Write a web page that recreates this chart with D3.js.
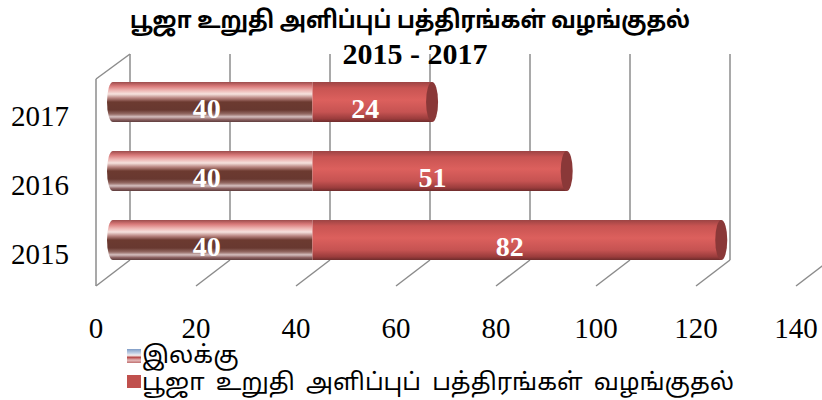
<!DOCTYPE html>
<html>
<head>
<meta charset="utf-8">
<script src="https://cdn.jsdelivr.net/npm/d3@7"></script>
<style>
  body { margin: 0; background: #fff; }
  svg { display: block; }
  .tamil { font-family: "Noto Sans Tamil", "Lohit Tamil", "Noto Sans", sans-serif; }
  .serif { font-family: "Liberation Serif", "Times New Roman", serif; }
</style>
</head>
<body>
<div id="chart"></div>
<script>
// DATA ------------------------------
const years = ["2017", "2016", "2015"];
const target = [40, 40, 40];
const issued = [24, 51, 82];
const xTicks = [0, 20, 40, 60, 80, 100, 120, 140];
const seriesNames = ["இலக்கு", "பூஜா உறுதி அளிப்புப் பத்திரங்கள் வழங்குதல்"];
const titleLine1 = "பூஜா உறுதி அளிப்புப் பத்திரங்கள் வழங்குதல்";
const titleLine2 = "2015 - 2017";

// CHART INIT ------------------------------
const width = 822, height = 400;
const svg = d3.select("#chart").append("svg")
  .attr("width", width)
  .attr("height", height);

const depth = {dx: -34, dy: 26};
const wallTop = 54, wallBottom = 260;

// back wall, bar (mid depth) and front plane scales
const xBack = d3.scaleLinear().domain([0, 140]).range([130, 830]);
const xBar = d3.scaleLinear().domain([0, 140]).range([113, 811]);
const xFront = d3.scaleLinear().domain([0, 140]).range([96, 796]);
const yPos = d3.scalePoint().domain(years).range([102, 240]);
const barH = 40, capRx = 6;

const defs = svg.append("defs");
const g1 = defs.append("linearGradient").attr("id", "gTarget")
  .attr("x1", 0).attr("y1", 0).attr("x2", 0).attr("y2", 1);
[[0, "#9c4c4c"], [0.1, "#d87878"], [0.2, "#ecb0ae"], [0.3, "#f6e2de"],
 [0.4, "#b88480"], [0.5, "#6c3a30"], [0.7, "#683830"], [0.8, "#946a64"],
 [0.87, "#d4bebe"], [0.94, "#8c6262"], [1, "#5e3c3c"]]
  .forEach(s => g1.append("stop").attr("offset", s[0]).attr("stop-color", s[1]));

const g2 = defs.append("linearGradient").attr("id", "gIssued")
  .attr("x1", 0).attr("y1", 0).attr("x2", 0).attr("y2", 1);
[[0, "#9c4444"], [0.15, "#c85452"], [0.45, "#dc605d"], [0.75, "#c65352"], [0.92, "#9a3c3c"], [1, "#6e2c2c"]]
  .forEach(s => g2.append("stop").attr("offset", s[0]).attr("stop-color", s[1]));

const gLeg = defs.append("linearGradient").attr("id", "gLegend")
  .attr("x1", 0).attr("y1", 0).attr("x2", 0).attr("y2", 1);
[[0, "#7f9cc6"], [0.3, "#c4d2e6"], [0.45, "#f4f0f0"], [0.6, "#b84c4c"], [0.8, "#e4b8b8"], [1, "#c07070"]]
  .forEach(s => gLeg.append("stop").attr("offset", s[0]).attr("stop-color", s[1]));

// GRID ------------------------------
const grid = svg.append("g").attr("stroke", "#8c8c8c").attr("stroke-width", 1.5).attr("fill", "none");
grid.selectAll(".vline").data(xTicks).enter().append("line")
  .attr("x1", d => xBack(d)).attr("x2", d => xBack(d))
  .attr("y1", wallTop).attr("y2", wallBottom);
grid.selectAll(".floor").data(xTicks).enter().append("line")
  .attr("x1", d => xBack(d)).attr("y1", wallBottom)
  .attr("x2", d => xBack(d) + depth.dx).attr("y2", wallBottom + depth.dy);
grid.append("line")
  .attr("x1", xBack(0)).attr("y1", wallTop)
  .attr("x2", xBack(0) + depth.dx).attr("y2", wallTop + depth.dy - 1);
grid.append("line")
  .attr("x1", xFront(0)).attr("y1", wallTop + depth.dy - 1)
  .attr("x2", xFront(0)).attr("y2", wallBottom + depth.dy);

// BARS ------------------------------
const rows = years.map((y, i) => ({year: y, target: target[i], issued: issued[i]}));

const bars = svg.append("g");
rows.forEach(r => {
  const cy = yPos(r.year);
  const top = cy - barH / 2;
  const x0 = xBar(0), x1 = xBar(r.target), x2 = xBar(r.target + r.issued);
  // left rounded end
  bars.append("path")
    .attr("d", `M${x0},${top} A${capRx},${barH / 2} 0 0 0 ${x0},${top + barH} Z`)
    .attr("fill", "url(#gTarget)");
  bars.append("rect")
    .attr("x", x0).attr("y", top).attr("width", x1 - x0).attr("height", barH)
    .attr("fill", "url(#gTarget)");
  bars.append("rect")
    .attr("x", x1).attr("y", top).attr("width", x2 - x1).attr("height", barH)
    .attr("fill", "url(#gIssued)");
  bars.append("ellipse")
    .attr("cx", x2).attr("cy", cy).attr("rx", capRx).attr("ry", barH / 2)
    .attr("fill", "#8a3838");

  bars.append("text").attr("class", "serif")
    .attr("x", (x0 + x1) / 2 - 6).attr("y", cy + 6)
    .attr("text-anchor", "middle").attr("dominant-baseline", "central")
    .attr("fill", "#fff").attr("font-weight", "bold").attr("font-size", 28)
    .text(r.target);
  bars.append("text").attr("class", "serif")
    .attr("x", (x1 + x2) / 2 - 7).attr("y", cy + 6)
    .attr("text-anchor", "middle").attr("dominant-baseline", "central")
    .attr("fill", "#fff").attr("font-weight", "bold").attr("font-size", 28)
    .text(r.issued);
});

// AXES LABELS ------------------------------
svg.append("g").selectAll("text").data(years).enter().append("text")
  .attr("class", "serif")
  .attr("x", 40).attr("y", d => yPos(d) + 14)
  .attr("text-anchor", "middle").attr("dominant-baseline", "central")
  .attr("font-size", 29).attr("fill", "#000")
  .text(d => d);

svg.append("g").selectAll("text").data(xTicks).enter().append("text")
  .attr("class", "serif")
  .attr("x", d => xFront(d)).attr("y", 328)
  .attr("text-anchor", "middle").attr("dominant-baseline", "central")
  .attr("font-size", 29).attr("fill", "#000")
  .text(d => d);

// TITLE ------------------------------
svg.append("text").attr("class", "tamil")
  .attr("x", 410).attr("y", 22)
  .attr("text-anchor", "middle").attr("dominant-baseline", "central")
  .attr("font-weight", "bold").attr("font-size", 24)
  .attr("textLength", 560).attr("lengthAdjust", "spacingAndGlyphs")
  .text(titleLine1);
svg.append("text").attr("class", "serif")
  .attr("x", 415).attr("y", 53)
  .attr("text-anchor", "middle").attr("dominant-baseline", "central")
  .attr("font-weight", "bold").attr("font-size", 30)
  .text(titleLine2);

// LEGEND ------------------------------
const legend = svg.append("g");
legend.append("rect").attr("x", 127).attr("y", 349).attr("width", 14).attr("height", 14)
  .attr("fill", "url(#gLegend)");
legend.append("rect").attr("x", 127).attr("y", 375).attr("width", 14).attr("height", 13)
  .attr("fill", "#c0504d");
legend.selectAll(".lt").data(seriesNames).enter().append("text")
  .attr("class", "tamil")
  .attr("x", 142).attr("y", (d, i) => 357 + i * 27)
  .attr("dominant-baseline", "central")
  .attr("font-size", 24).attr("fill", "#000")
  .attr("word-spacing", 5)
  .text(d => d);
</script>
</body>
</html>
